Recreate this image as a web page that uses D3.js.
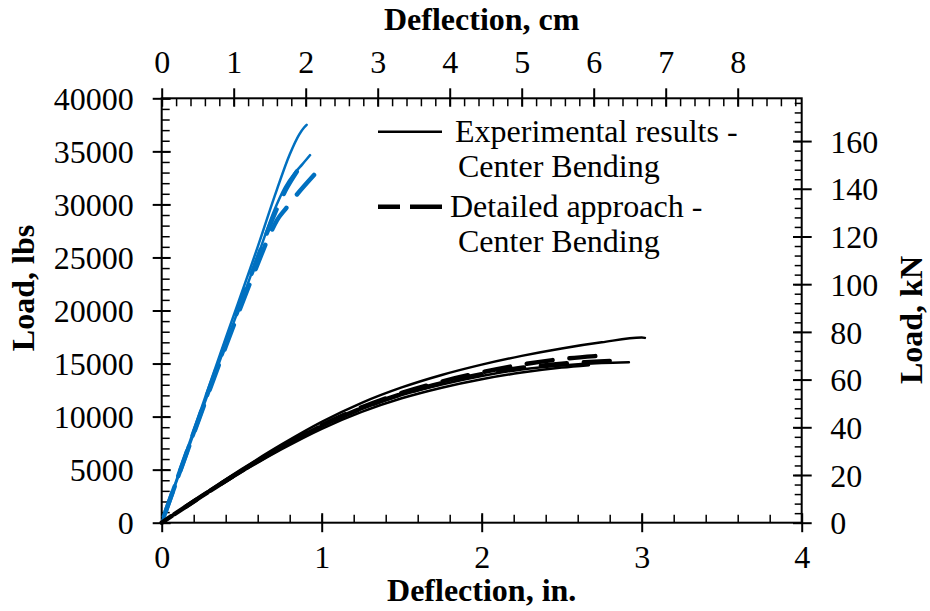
<!DOCTYPE html>
<html>
<head>
<meta charset="utf-8">
<script src="https://cdn.jsdelivr.net/npm/d3@7"></script>
<style>
  html, body { margin: 0; padding: 0; background: #fff; }
  svg { display: block; }
  text { font-family: "Liberation Serif", "Times New Roman", serif; fill: #000; }
</style>
</head>
<body>
<svg id="chart" width="930" height="611"></svg>
<script>
// Load–deflection data, deflection in inches, load in lbs
const expCenter1 = [[0,0],[0.25,2575],[0.5,5050],[0.75,7375],[1.0,9500],[1.25,11300],[1.5,12750],[1.75,13925],[2.0,14900],[2.25,15725],[2.5,16425],[2.75,17000],[3.0,17450],[3.02,17420]];
const expCenter2 = [[0,0],[0.25,2500],[0.5,4875],[0.75,7075],[1.0,9050],[1.25,10700],[1.5,12025],[1.75,13025],[2.0,13825],[2.25,14450],[2.5,14825],[2.75,15050],[2.92,15120]];
const expCenter3 = [[0,0],[0.25,2450],[0.5,4775],[0.75,6925],[1.0,8850],[1.25,10450],[1.5,11725],[1.75,12725],[2.0,13525],[2.25,14150],[2.5,14625],[2.67,14850]];
const detCenter1 = [[0,0],[0.25,2500],[0.5,4900],[0.75,7150],[1.0,9175],[1.25,10875],[1.5,12225],[1.75,13300],[2.0,14175],[2.25,14900],[2.5,15425],[2.71,15700]];
const detCenter2 = [[0,0],[0.25,2500],[0.5,4890],[0.75,7110],[1.0,9110],[1.25,10790],[1.5,12125],[1.75,13160],[2.0,14000],[2.25,14600],[2.5,14980],[2.8,15250]];

const expEdge1 = [[0,0],[0.2,8700],[0.4,17400],[0.6,26000],[0.72,31400],[0.8,34700],[0.86,36600],[0.89,37250],[0.906,37500]];
const expEdge2 = [[0,0],[0.2,8400],[0.4,16800],[0.6,25100],[0.7,29300],[0.77,31600],[0.833,33000],[0.88,33800],[0.927,34640]];
const detEdge1 = [[0,0],[0.2,8500],[0.4,16900],[0.6,25000],[0.7,28900],[0.78,31500],[0.844,33080]];
const detEdge2 = [[0,0],[0.2,8400],[0.4,16600],[0.6,24400],[0.68,27300],[0.72,28500],[0.777,29630],[0.827,30600],[0.952,32770]];

// Axis ticks
const inchTicks = [0, 1, 2, 3, 4];
const cmTicks = [0, 1, 2, 3, 4, 5, 6, 7, 8];
const lbsTicks = [0, 5000, 10000, 15000, 20000, 25000, 30000, 35000, 40000];
const kNTicks = [0, 20, 40, 60, 80, 100, 120, 140, 160];

const legendLabels = [["Experimental results -", "Center Bending"], ["Detailed approach -", "Center Bending"]];

const blue = "#0070C0";
const svg = d3.select("#chart");
const L = 161.7, R = 801.7, T = 98.3, B = 522.7;

const x = d3.scaleLinear().domain([0, 4]).range([L, R]);
const xTop = d3.scaleLinear().domain([0, (R - L) / 72]).range([L, R]);
const y = d3.scaleLinear().domain([0, 40000]).range([B, T]);
const yRight = d3.scaleLinear().domain([0, 40000 * 0.00444822]).range([B, T]);

const FS = 32;

function minorVals(step, max) {
  return d3.range(0, max + 1e-9, step);
}

// makeAxis returns a fresh d3 axis generator each call
function drawAxis(makeAxis, scale, tr, majors, minorStep, outSize, inSize, minorSize, labelFn) {
  const max = scale.domain()[1];
  // minor ticks, pointing into the plot
  svg.append("g").attr("transform", tr)
    .call(makeAxis(scale).tickValues(minorVals(minorStep, max)).tickSizeInner(-minorSize).tickSizeOuter(0).tickFormat(""))
    .call(g => g.select(".domain").remove())
    .call(g => g.selectAll("line").attr("stroke-width", 1.5));
  // major ticks, inner half
  svg.append("g").attr("transform", tr)
    .call(makeAxis(scale).tickValues(majors).tickSizeInner(-inSize).tickSizeOuter(0).tickFormat(""))
    .call(g => g.select(".domain").remove())
    .call(g => g.selectAll("line").attr("stroke-width", 2));
  // major ticks, outer half, with labels
  const g = svg.append("g").attr("transform", tr)
    .call(makeAxis(scale).tickValues(majors).tickSizeInner(outSize).tickSizeOuter(0).tickFormat(d3.format("d")))
    .call(g => g.select(".domain").remove())
    .call(g => g.selectAll("line").attr("stroke-width", 2));
  g.selectAll("text").attr("font-size", FS).attr("font-family", "Liberation Serif, Times New Roman, serif").attr("fill", "#000");
  labelFn(g.selectAll("text"));
}

// Bottom: inches
drawAxis(d3.axisBottom, x, `translate(0,${B})`, inchTicks, 0.2, 9.5, 9.5, 8,
  t => t.attr("y", 34.5).attr("dy", "0.35em"));
// Top: centimetres
drawAxis(d3.axisTop, xTop, `translate(0,${T})`, cmTicks, 0.2, 10, 8.4, 8,
  t => t.attr("y", -36.6).attr("dy", "0.35em"));
// Left: lbs
drawAxis(d3.axisLeft, y, `translate(${L},0)`, lbsTicks, 1000, 9, 9, 8,
  t => t.attr("x", -28).attr("dy", "0.35em"));
// Right: kN
drawAxis(d3.axisRight, yRight, `translate(${R},0)`, kNTicks, 4, 10, 8.7, 7,
  t => t.attr("x", 28.5).attr("dy", "0.35em"));

// Plot frame
svg.append("rect").attr("x", L).attr("y", T).attr("width", R - L).attr("height", B - T)
  .attr("fill", "none").attr("stroke", "#000").attr("stroke-width", 2);

// Axis titles
svg.append("text").attr("x", (L + R) / 2).attr("y", 30).attr("text-anchor", "middle")
  .attr("font-size", FS).attr("font-weight", "bold").text("Deflection, cm");
svg.append("text").attr("x", (L + R) / 2).attr("y", 601).attr("text-anchor", "middle")
  .attr("font-size", FS).attr("font-weight", "bold").text("Deflection, in.");
svg.append("text").attr("transform", "translate(33.5,288) rotate(-90)").attr("text-anchor", "middle")
  .attr("font-size", FS).attr("font-weight", "bold").text("Load, lbs");
svg.append("text").attr("transform", "translate(922,320) rotate(-90)").attr("text-anchor", "middle")
  .attr("font-size", FS).attr("font-weight", "bold").text("Load, kN");

// Curves
const line = d3.line().x(d => x(d[0])).y(d => y(d[1])).curve(d3.curveMonotoneX);
const plot = svg.append("g");
const DASH = 26, GAP = 17;

function drawCurve(data, color, dashed) {
  const p = plot.append("path").datum(data).attr("d", line)
    .attr("fill", "none").attr("stroke", color)
    .attr("stroke-linejoin", "round").attr("stroke-linecap", "round");
  if (dashed) {
    // shift the dash pattern so each dashed curve finishes on a full dash
    const len = p.node().getTotalLength();
    const offset = DASH - (len % (DASH + GAP));
    p.attr("stroke-width", 4.5).attr("stroke-dasharray", `${DASH},${GAP}`)
      .attr("stroke-dashoffset", offset);
  } else {
    p.attr("stroke-width", 2.5);
  }
}

[expEdge1, expEdge2].forEach(d => drawCurve(d, blue, false));
[detEdge1, detEdge2].forEach(d => drawCurve(d, blue, true));
[expCenter1, expCenter2, expCenter3].forEach(d => drawCurve(d, "#000", false));
[detCenter1, detCenter2].forEach(d => drawCurve(d, "#000", true));

// Legend
const leg = svg.append("g");
const legRows = [131.7, 206.7];
leg.append("line").attr("x1", 378).attr("x2", 442).attr("y1", legRows[0]).attr("y2", legRows[0])
  .attr("stroke", "#000").attr("stroke-width", 2.5);
leg.append("line").attr("x1", 378).attr("x2", 442).attr("y1", legRows[1]).attr("y2", legRows[1])
  .attr("stroke", "#000").attr("stroke-width", 4.5).attr("stroke-dasharray", "22,10,40");
legendLabels.forEach((lines, i) => {
  lines.forEach((s, j) => {
    leg.append("text").attr("x", j === 0 ? (i === 0 ? 455 : 450) : 458)
      .attr("y", legRows[i] + j * 35).attr("dy", "0.33em")
      .attr("font-size", FS).text(s);
  });
});
</script>
</body>
</html>
